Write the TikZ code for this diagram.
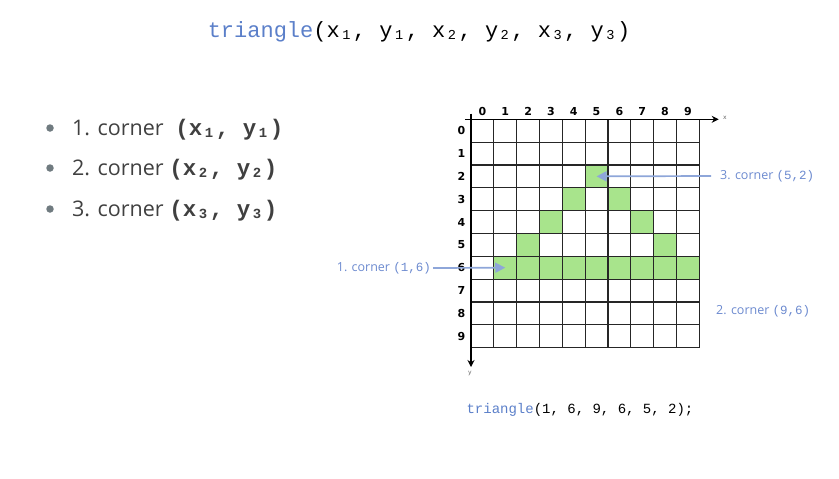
\documentclass[tikz,border=0pt]{standalone}
\usepackage{fontspec}
\setmainfont{Open Sans}
\setmonofont{Liberation Mono}
\newfontfamily\gridfont{DejaVu Sans}
\usetikzlibrary{arrows.meta}

\definecolor{codeblue}{HTML}{5B7FC9}
\definecolor{arrowblue}{HTML}{8EA6D9}
\definecolor{labelblue}{HTML}{6C8ACF}
\definecolor{cellgreen}{HTML}{A8E48C}
\definecolor{bulletgray}{HTML}{707B80}
\definecolor{textgray}{HTML}{404040}

% small index digit, keeps the mono width
\newcommand\sub[1]{\makebox[0.6em][c]{\raisebox{-0.1em}{\scalebox{0.62}{#1}}}}

\begin{document}
\begin{tikzpicture}[x=1pt, y=-1pt,
    bullet/.style={circle, fill=bulletgray, inner sep=0pt, minimum size=7.5pt},
    item/.style={anchor=base west, inner sep=0pt, text=textgray, font=\fontsize{21.5}{24}\selectfont},
    lab/.style={text=labelblue, inner sep=0pt, font=\fontsize{12.5}{14}\selectfont},
    num/.style={inner sep=0pt, font=\gridfont\bfseries\fontsize{11}{13}\selectfont},
    gridline/.style={line width=1.2pt, black!85},
    axis/.style={line width=1.3pt, -{Stealth[length=7pt, width=7pt]}},
    corner arrow/.style={draw=arrowblue, line width=1.7pt, -{Triangle[length=10pt, width=10pt]}}]
    \useasboundingbox (0,0) rectangle (839,479);

    % Title
    \node (title) at (419,32) {\fontsize{22}{24}\selectfont\ttfamily\textcolor{codeblue}{triangle}(x\sub1, y\sub1, x\sub2, y\sub2, x\sub3, y\sub3)};

    % Corners
    \node[bullet] (b1) at (50,128) {};
    \node[bullet] (b2) at (50,168) {};
    \node[bullet] (b3) at (50,209) {};
    \node[item] (l1) at (72,135) {1. corner\hspace{6pt} {\ttfamily\bfseries\fontsize{22.5}{24}\selectfont (x\sub1, y\sub1)}};
    \node[item] (l2) at (72,175) {2. corner {\ttfamily\bfseries\fontsize{22.5}{24}\selectfont (x\sub2, y\sub2)}};
    \node[item] (l3) at (72,216) {3. corner {\ttfamily\bfseries\fontsize{22.5}{24}\selectfont (x\sub3, y\sub3)}};

    % Grid
    \begin{scope}[shift={(471pt,-119.3pt)}, x=22.83pt, y=-22.83pt]
        \foreach \cx/\cy in {5/2, 4/3, 6/3, 3/4, 7/4, 2/5, 8/5, 1/6, 2/6, 3/6, 4/6, 5/6, 6/6, 7/6, 8/6, 9/6}
            \fill[cellgreen] (\cx,\cy) rectangle ++(1,1);
        \foreach \k in {0,...,10} {
            \draw[gridline] (\k,0) -- (\k,10);
            \draw[gridline] (0,\k) -- (10,\k);
        }
        \foreach \k in {0,...,9} {
            \node[num] (col\k) at (\k+0.5,-0.33) {\k};
            \node[num] (row\k) at (-0.42,\k+0.5) {\k};
        }
        \coordinate (xstart) at (-0.27,0);
        \coordinate (xend) at (10.85,0);
        \coordinate (ystart) at (0,-0.25);
        \coordinate (yend) at (0,10.85);
        \draw[axis] (xstart) -- (xend);
        \draw[axis] (ystart) -- (yend);
        \node[inner sep=0pt, font=\gridfont\fontsize{6}{7}\selectfont, text=black!60] (xlab) at (11.12,-0.05) {x};
        \node[inner sep=0pt, font=\gridfont\fontsize{6}{7}\selectfont, text=black!60] (ylab) at (-0.05,11.12) {y};
        \coordinate (p16) at (1.5,6.5);
        \coordinate (p52) at (5.5,2.5);
    \end{scope}

    % Labels
    \node[lab, anchor=east, inner xsep=2pt] (lab1) at (433,268) {1. corner {\ttfamily(1,6)}};
    \node[lab, anchor=west, inner xsep=9pt] (lab3) at (711,176) {3. corner {\ttfamily(5,2)}};
    \node[lab, anchor=west] (lab2) at (716,311) {2. corner {\ttfamily(9,6)}};
    \draw[corner arrow] (lab1.east) -- (p16);
    \draw[corner arrow] (lab3.west) -- (p52);

    % Call
    \node (code) at (580,410) {\fontsize{14}{16}\selectfont\ttfamily\textcolor{codeblue}{triangle}(1, 6, 9, 6, 5, 2);};
\end{tikzpicture}
\end{document}
